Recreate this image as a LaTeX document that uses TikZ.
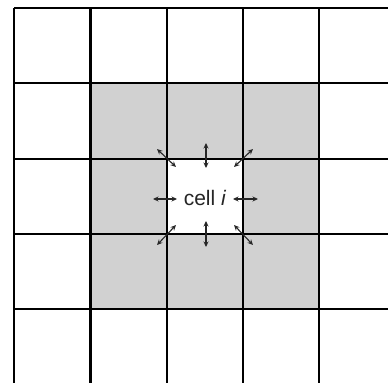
\documentclass[tikz,border=0pt]{standalone}
\usepackage{fontspec}
\setmainfont{Liberation Sans}
\usetikzlibrary{arrows.meta}
\definecolor{cellgray}{gray}{0.82}
\tikzset{
  gridline/.style={line width=2.2pt, black},
  nbarrow/.style={line width=1.1pt, {Stealth[length=5.5pt,width=5pt]}-{Stealth[length=5.5pt,width=5pt]}, black!85},
  celltext/.style={font=\fontsize{21}{24}\selectfont, inner sep=0pt, text=black!85}
}
\begin{document}
\begin{tikzpicture}[x=1pt,y=-1pt]
\useasboundingbox (0,0) rectangle (388,383);
% gray neighbourhood
\fill[cellgray] (90.5,83) rectangle (319,309);
\fill[white] (167,159) rectangle (243,234);
% grid
\foreach \x in {14,90.5,167,243,319} \draw[gridline] (\x,8) -- (\x,383);
\foreach \y in {8,83,159,234,309} \draw[gridline] (14,\y) -- (388,\y);
% label
\node[celltext] (c) at (205,198) {cell \textit{i}};
% arrows
\coordinate (l1) at (153,199); \coordinate (l2) at (177,199);
\coordinate (r1) at (233,199); \coordinate (r2) at (258,199);
\coordinate (t1) at (206,143); \coordinate (t2) at (206,168);
\coordinate (b1) at (206,221); \coordinate (b2) at (206,247);
\coordinate (tl1) at (157,149); \coordinate (tl2) at (176,167);
\coordinate (tr1) at (253,149); \coordinate (tr2) at (234,167);
\coordinate (bl1) at (176,225); \coordinate (bl2) at (157,245);
\coordinate (br1) at (234,225); \coordinate (br2) at (253,245);
\foreach \a in {l,r,t,b,tl,tr,bl,br} \draw[nbarrow] (\a1) -- (\a2);
\end{tikzpicture}
\end{document}
